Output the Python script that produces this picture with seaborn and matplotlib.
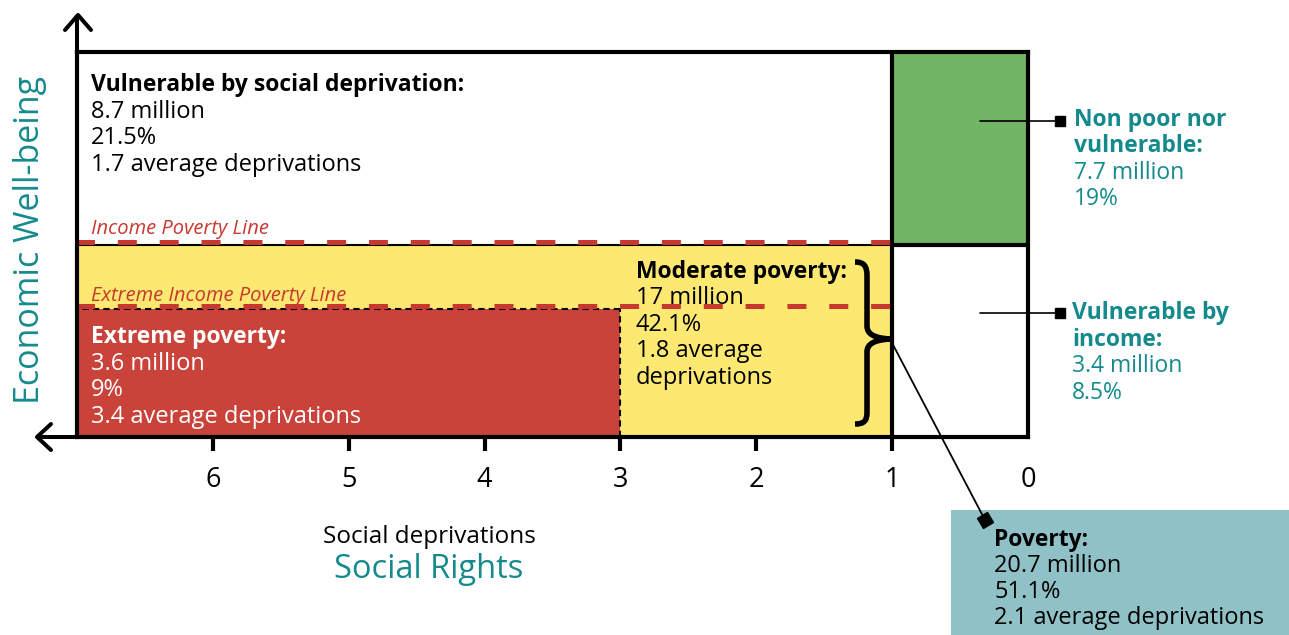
import matplotlib.pyplot as plt
import seaborn as sns
import pandas as pd
import numpy as np
from matplotlib.patches import Rectangle, PathPatch
from matplotlib.path import Path
from matplotlib.markers import MarkerStyle
from matplotlib.transforms import Affine2D

# ---- 数据 ----
deprivation_ticks = [0, 1, 2, 3, 4, 5, 6]
max_deprivations = 7
extreme_line_level = 2
income_line_level = 3
wellbeing_top = 6

group_names = ['Vulnerable by social deprivation', 'Moderate poverty', 'Extreme poverty',
               'Non poor nor vulnerable', 'Vulnerable by income', 'Poverty']
millions = [8.7, 17, 3.6, 7.7, 3.4, 20.7]
shares = ['21.5%', '42.1%', '9%', '19%', '8.5%', '51.1%']
avg_deprivations = [1.7, 1.8, 3.4, None, None, 2.1]

# 区域：社会剥夺范围 与 经济福利范围
region_names = ['Moderate poverty', 'Extreme poverty', 'Non poor nor vulnerable']
region_x = [(1, max_deprivations), (3, max_deprivations), (0, 1)]
region_y = [(0, income_line_level), (0, extreme_line_level), (income_line_level, wellbeing_top)]
region_colors = ['#fde972', '#c9433a', '#72b564']

line_names = ['Income Poverty Line', 'Extreme Income Poverty Line']
line_levels = [income_line_level, extreme_line_level]

# ---- 样式 ----
W, H = 1289, 635
sns.set_theme(style='white')
plt.rcParams['font.family'] = ['Open Sans', 'DejaVu Sans']
TEAL = '#158a8c'
RED = '#c8382f'

fig = plt.figure(figsize=(W / 100, H / 100), dpi=100)
ax = fig.add_axes([77 / W, 1 - 437 / H, (1028 - 77) / W, (437 - 52) / H])
ax.set_xlim(max_deprivations, 0)
ax.set_ylim(0, wellbeing_top)

for name, (x0, x1), (y0, y1), c in zip(region_names, region_x, region_y, region_colors):
    ax.fill_between([x0, x1], y0, y1, color=c, lw=0, zorder=1)

# 区域边框
ax.plot([1, 1], [0, wellbeing_top], color='black', lw=3, zorder=4, solid_capstyle='butt')
ax.plot([0, 1], [income_line_level] * 2, color='black', lw=3, zorder=4)
ax.plot([1, max_deprivations], [income_line_level] * 2, color='black', lw=1.5, zorder=3)
ax.plot([3, max_deprivations], [extreme_line_level] * 2, color='black', lw=1.5, ls=(0, (3, 2)), zorder=3)
ax.plot([3, 3], [0, extreme_line_level], color='black', lw=1.5, ls=(0, (3, 2)), zorder=3)

# 贫困线
lines_df = pd.DataFrame({
    'deprivations': [max_deprivations, 1] * 2,
    'wellbeing': np.repeat(line_levels, 2) + 0.045,
    'line': np.repeat(line_names, 2),
})
sns.lineplot(data=lines_df, x='deprivations', y='wellbeing', units='line', estimator=None,
             sort=False, color=RED, lw=3.6, linestyle=(0.3, (3.8, 4.57)), legend=False, ax=ax, zorder=5)

for s in ax.spines.values():
    s.set_linewidth(3)
    s.set_color('black')
    s.set_zorder(6)
ax.set_xticks(deprivation_ticks)
ax.set_xticklabels([str(t) for t in deprivation_ticks])
ax.set_yticks([])
ax.tick_params(axis='x', direction='out', length=10, width=3, pad=11, labelsize=19.5, colors='black', bottom=True)
ax.xaxis.get_major_ticks()[0].tick1line.set_visible(False)
ax.set_xlabel('')
ax.set_ylabel('')

# ---- 像素坐标覆盖层 ----
ov = fig.add_axes([0, 0, 1, 1], zorder=5)
ov.set_xlim(0, W)
ov.set_ylim(H, 0)
ov.axis('off')
ov.patch.set_alpha(0)

# 坐标轴箭头
ov.plot([77, 77], [52, 15], color='black', lw=2.9, solid_capstyle='butt')
ov.plot([65, 78, 91], [30, 15, 30], color='black', lw=2.9)
ov.plot([77, 37], [437, 437], color='black', lw=2.9, solid_capstyle='butt')
ov.plot([51, 37, 51], [424, 437, 450], color='black', lw=2.9)


def block(x, y0, step, rows, color, size=17, bold_size=16.5, bold_rows=1):
    for i, r in enumerate(rows):
        bold = i < bold_rows
        ov.text(x, y0 + i * step, r, color=color, fontsize=bold_size if bold else size,
                va='baseline', ha='left', fontweight='bold' if bold else 'normal')


def fmt_m(v):
    return f'{v:g} million'


block(91, 91, 26.6, [group_names[0] + ':', fmt_m(millions[0]), shares[0],
                     f'{avg_deprivations[0]} average deprivations'], 'black')
block(636, 278, 26.4, [group_names[1] + ':', fmt_m(millions[1]), shares[1],
                       f'{avg_deprivations[1]} average', 'deprivations'], 'black')
block(91, 343, 26.6, [group_names[2] + ':', fmt_m(millions[2]), shares[2],
                      f'{avg_deprivations[2]} average deprivations'], 'white')
block(1074, 126, 26.4, ['Non poor nor', 'vulnerable:', fmt_m(millions[3]), shares[3]], TEAL,
      size=16.5, bold_rows=2)
block(1072, 319, 26.6, ['Vulnerable by', 'income:', fmt_m(millions[4]), shares[4]], TEAL,
      size=16.5, bold_rows=2)

ov.text(91, 234, line_names[0], color=RED, fontsize=14.5, style='italic', va='baseline')
ov.text(91, 301, line_names[1], color=RED, fontsize=14.5, style='italic', va='baseline')

# 右侧引线
for yy in [121, 313]:
    ov.plot([980, 1060], [yy, yy], color='black', lw=1.2)
    ov.plot(1060, yy, marker='s', ms=7.5, color='black')

# 大括号
verts = [(855, 262), (864, 262), (867, 266), (867, 276),
         (867, 326),
         (867, 334), (874, 338), (890, 339),
         (874, 340), (867, 344), (867, 352),
         (867, 412),
         (867, 421), (864, 424), (855, 424)]
codes = [Path.MOVETO, Path.CURVE4, Path.CURVE4, Path.CURVE4,
         Path.LINETO,
         Path.CURVE4, Path.CURVE4, Path.CURVE4,
         Path.CURVE4, Path.CURVE4, Path.CURVE4,
         Path.LINETO,
         Path.CURVE4, Path.CURVE4, Path.CURVE4]
ov.add_patch(PathPatch(Path(verts, codes), fill=False, lw=4, edgecolor='black', capstyle='butt'))

# Poverty 框
ov.add_patch(Rectangle((951, 510), W - 951, H - 510, color='#8fc1c6', lw=0, zorder=0))
ov.plot([890, 985], [339, 520], color='black', lw=1.3)
ov.plot(985, 520, marker=MarkerStyle('s', transform=Affine2D().rotate_deg(28)), ms=8, color='black')
block(994, 546, 26, [group_names[5] + ':', fmt_m(millions[5]), shares[5],
                     f'{avg_deprivations[5]} average deprivations'], 'black')

# 坐标轴标题
ov.text(429, 543, 'Social deprivations', fontsize=17.5, ha='center', va='baseline', color='black')
ov.text(429, 578, 'Social Rights', fontsize=23.5, ha='center', va='baseline', color=TEAL)
ov.text(30, 240, 'Economic Well-being', fontsize=24.5, rotation=90, ha='center', va='center', color=TEAL)

plt.savefig('out.png', dpi=100)
